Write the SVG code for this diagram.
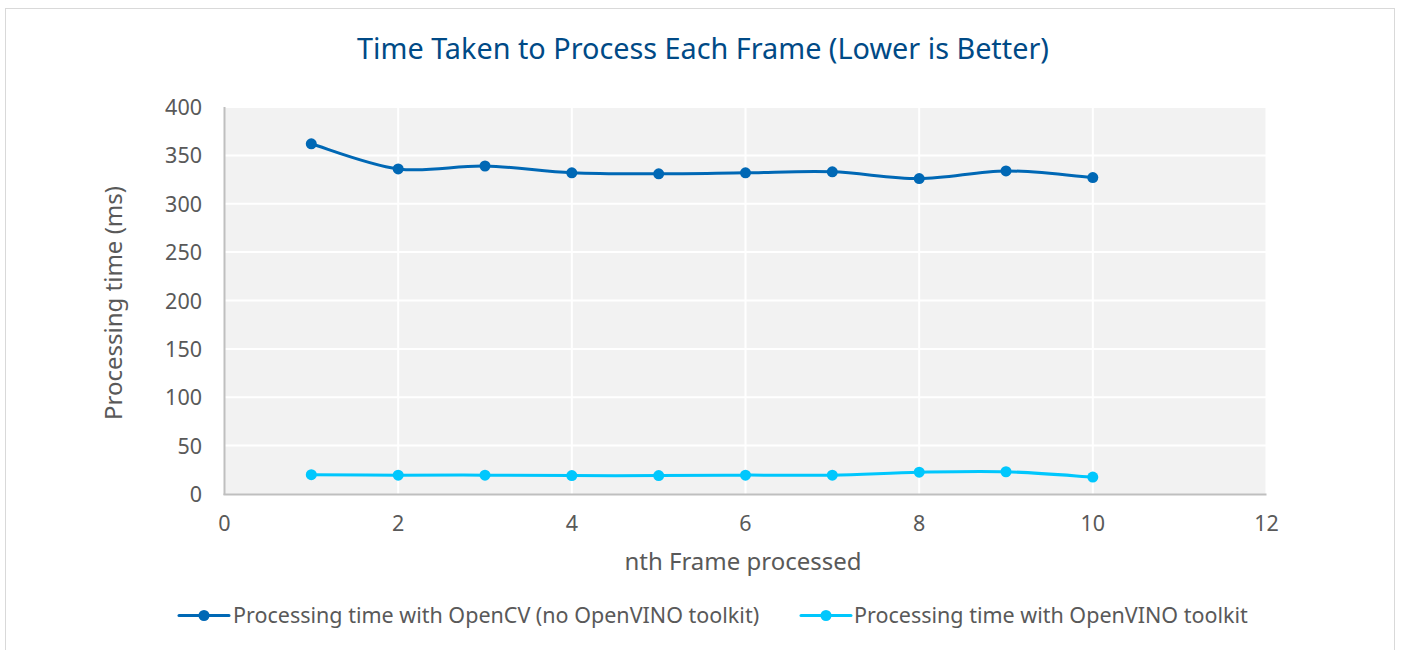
<svg xmlns="http://www.w3.org/2000/svg" width="1401" height="650" viewBox="0 0 1401 650">
<style>
.tick{font-family:"Noto Sans","Open Sans",sans-serif;font-size:21.5px;fill:#595959}
.ytick{text-anchor:end}
.xtick{text-anchor:middle}
.atitle{font-family:"Noto Sans","Open Sans",sans-serif;font-size:24px;fill:#595959;text-anchor:middle}
.leg{font-family:"Noto Sans","Open Sans",sans-serif;font-size:21.5px;fill:#595959}
.grid{stroke:#FFFFFF;stroke-width:2;fill:none}
.axis{stroke:#BFBFBF;stroke-width:2;fill:none}
.s1{stroke:#0068B5;stroke-width:3;fill:none;stroke-linecap:round}
.s2{stroke:#00C7FD;stroke-width:3;fill:none;stroke-linecap:round}
.m1{fill:#0068B5}
.m2{fill:#00C7FD}
</style>
<rect x="0" y="0" width="1401" height="650" fill="#FFFFFF"/>
<rect x="5.5" y="8.5" width="1389" height="700" fill="#FFFFFF" stroke="#D9D9D9" stroke-width="1"/>
<text x="703" y="59" font-family="Noto Sans, Open Sans, sans-serif" font-size="28.8" fill="#004A86" text-anchor="middle">Time Taken to Process Each Frame (Lower is Better)</text>
<g id="plot-area">
<rect x="224.5" y="107" width="1042" height="387" fill="#F2F2F2"/>
<g class="grid">
<line x1="224.5" y1="107" x2="1266.5" y2="107"/>
<line x1="224.5" y1="155.4" x2="1266.5" y2="155.4"/>
<line x1="224.5" y1="203.8" x2="1266.5" y2="203.8"/>
<line x1="224.5" y1="252.1" x2="1266.5" y2="252.1"/>
<line x1="224.5" y1="300.5" x2="1266.5" y2="300.5"/>
<line x1="224.5" y1="348.9" x2="1266.5" y2="348.9"/>
<line x1="224.5" y1="397.3" x2="1266.5" y2="397.3"/>
<line x1="224.5" y1="445.6" x2="1266.5" y2="445.6"/>
<line x1="398.2" y1="107" x2="398.2" y2="494"/>
<line x1="571.8" y1="107" x2="571.8" y2="494"/>
<line x1="745.5" y1="107" x2="745.5" y2="494"/>
<line x1="919.2" y1="107" x2="919.2" y2="494"/>
<line x1="1092.8" y1="107" x2="1092.8" y2="494"/>
<line x1="1266.5" y1="107" x2="1266.5" y2="494"/>
</g>
<g class="axis">
<line x1="224.5" y1="107" x2="224.5" y2="495"/>
<line x1="223.5" y1="494.5" x2="1266.5" y2="494.5"/>
</g>
</g>
<g id="y-ticks">
<text class="tick ytick" x="202" y="115">400</text>
<text class="tick ytick" x="202" y="163.4">350</text>
<text class="tick ytick" x="202" y="211.8">300</text>
<text class="tick ytick" x="202" y="260.1">250</text>
<text class="tick ytick" x="202" y="308.5">200</text>
<text class="tick ytick" x="202" y="356.9">150</text>
<text class="tick ytick" x="202" y="405.3">100</text>
<text class="tick ytick" x="202" y="453.6">50</text>
<text class="tick ytick" x="202" y="502">0</text>
</g>
<g id="x-ticks">
<text class="tick xtick" x="224.5" y="531">0</text>
<text class="tick xtick" x="398.2" y="531">2</text>
<text class="tick xtick" x="571.8" y="531">4</text>
<text class="tick xtick" x="745.5" y="531">6</text>
<text class="tick xtick" x="919.2" y="531">8</text>
<text class="tick xtick" x="1092.8" y="531">10</text>
<text class="tick xtick" x="1266.5" y="531">12</text>
</g>
<text class="atitle" x="743" y="570">nth Frame processed</text>
<text class="atitle" transform="translate(122,303) rotate(-90)">Processing time (ms)</text>
<g id="series-opencv">
<path class="s1" d="M311.3,143.8 C325.8,148.0 369.25,165.2 398.2,168.9 C427.15,172.6 456.07,165.35 485.0,166.0 C513.93,166.65 542.85,171.5 571.8,172.8 C600.75,174.1 629.75,173.8 658.7,173.8 C687.65,173.8 716.57,173.13 745.5,172.8 C774.43,172.47 803.35,170.83 832.3,171.8 C861.25,172.77 890.25,178.75 919.2,178.6 C948.15,178.45 977.07,171.07 1006.0,170.9 C1034.93,170.73 1078.33,176.48 1092.8,177.6"/>
<circle class="m1" cx="311.3" cy="143.8" r="5.5"/>
<circle class="m1" cx="398.2" cy="168.9" r="5.5"/>
<circle class="m1" cx="485.0" cy="166.0" r="5.5"/>
<circle class="m1" cx="571.8" cy="172.8" r="5.5"/>
<circle class="m1" cx="658.7" cy="173.8" r="5.5"/>
<circle class="m1" cx="745.5" cy="172.8" r="5.5"/>
<circle class="m1" cx="832.3" cy="171.8" r="5.5"/>
<circle class="m1" cx="919.2" cy="178.6" r="5.5"/>
<circle class="m1" cx="1006.0" cy="170.9" r="5.5"/>
<circle class="m1" cx="1092.8" cy="177.6" r="5.5"/>
</g>
<g id="series-openvino">
<path class="s2" d="M311.3,474.65 C325.8,474.73 369.25,475.05 398.2,475.13 C427.15,475.21 456.07,475.05 485.0,475.13 C513.93,475.21 542.85,475.54 571.8,475.62 C600.75,475.7 629.75,475.7 658.7,475.62 C687.65,475.54 716.57,475.21 745.5,475.13 C774.43,475.05 803.35,475.61 832.3,475.13 C861.25,474.65 890.25,472.79 919.2,472.23 C948.15,471.67 977.07,470.94 1006.0,471.75 C1034.93,472.56 1078.33,476.18 1092.8,477.07"/>
<circle class="m2" cx="311.3" cy="474.65" r="5.5"/>
<circle class="m2" cx="398.2" cy="475.13" r="5.5"/>
<circle class="m2" cx="485.0" cy="475.13" r="5.5"/>
<circle class="m2" cx="571.8" cy="475.62" r="5.5"/>
<circle class="m2" cx="658.7" cy="475.62" r="5.5"/>
<circle class="m2" cx="745.5" cy="475.13" r="5.5"/>
<circle class="m2" cx="832.3" cy="475.13" r="5.5"/>
<circle class="m2" cx="919.2" cy="472.23" r="5.5"/>
<circle class="m2" cx="1006.0" cy="471.75" r="5.5"/>
<circle class="m2" cx="1092.8" cy="477.07" r="5.5"/>
</g>
<g id="legend-opencv">
<line class="s1" x1="179" y1="615.5" x2="229" y2="615.5"/>
<circle class="m1" cx="204" cy="615.5" r="5.5"/>
<text class="leg" x="233" y="623">Processing time with OpenCV (no OpenVINO toolkit)</text>
</g>
<g id="legend-openvino">
<line class="s2" x1="801" y1="615.5" x2="851" y2="615.5"/>
<circle class="m2" cx="826" cy="615.5" r="5.5"/>
<text class="leg" x="854" y="623">Processing time with OpenVINO toolkit</text>
</g>
</svg>
